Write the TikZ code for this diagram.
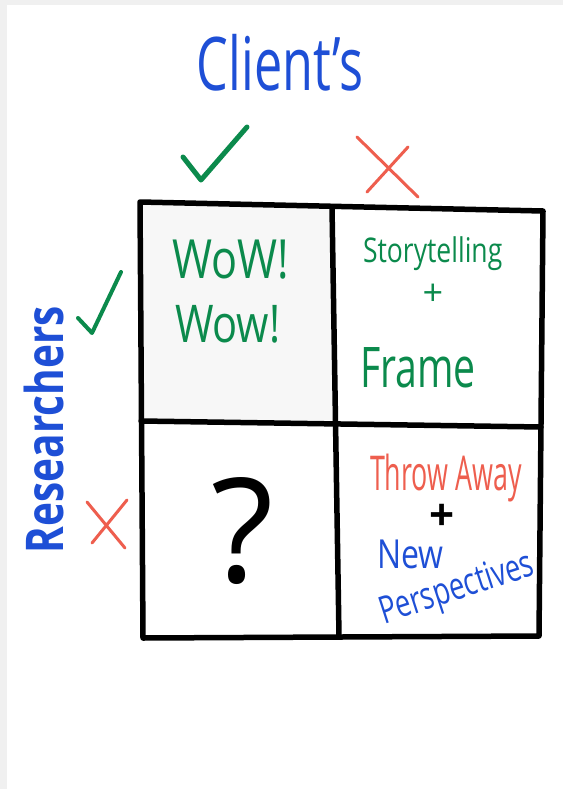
\documentclass[tikz,border=0pt]{standalone}
\usepackage{fontspec}
\setmainfont{Open Sans}
\definecolor{mblue}{HTML}{1E4FD6}
\definecolor{mgreen}{HTML}{0B8A4C}
\definecolor{mred}{HTML}{EE5E4E}
\definecolor{pagegray}{HTML}{F0F0F0}
\definecolor{cellgray}{HTML}{F7F7F7}
\tikzset{
  gridline/.style={line width=5.5pt, line cap=round, line join=round, black},
  checkmark/.style={mgreen, line width=5pt, line cap=round, line join=round},
  crossmark/.style={mred, line width=3pt, line cap=round},
  lbl/.style={inner sep=0pt, outer sep=0pt},
}
\newcommand{\fs}[1]{\fontsize{#1}{#1}\selectfont}
\begin{document}
\begin{tikzpicture}[x=1pt,y=-1pt]
\useasboundingbox (0,0) rectangle (563,789);
\fill[pagegray] (0,0) rectangle (563,789);
\fill[white] (7,5) rectangle (563,789);
% faint erased area in top-left cell
\fill[cellgray] (142,204) rectangle (333,420);

% grid
\coordinate (tl) at (140,202);
\coordinate (tr) at (543,211);
\coordinate (br) at (539,636);
\coordinate (bl) at (143,638);
\coordinate (mt) at (332,207);
\coordinate (mb) at (339,636);
\coordinate (ml) at (141,421);
\coordinate (mr) at (541,427);
\draw[gridline] (tl) -- (tr) -- (br) -- (bl) -- cycle;
\draw[gridline] (mt) -- (mb);
\draw[gridline] (ml) -- (mr);

% header
\node[lbl, anchor=base, text=mblue] (client) at (280,91) {\fs{74}\scalebox{0.68}[1]{Client's}};
\node[lbl, anchor=base west, text=mblue, rotate=90] (research) at (63,553) {\fs{52}\bfseries\scalebox{0.78}[1]{Researchers}};

% marks
\coordinate (c1a) at (183,157);
\coordinate (c1b) at (201,180);
\coordinate (c1c) at (247,127);
\draw[checkmark] (c1a) -- (c1b) -- (c1c);
\coordinate (x1a) at (357,137);
\coordinate (x1b) at (418,197);
\coordinate (x1c) at (408,147);
\coordinate (x1d) at (367,192);
\draw[crossmark] (x1a) -- (x1b) (x1c) -- (x1d);
\coordinate (c2a) at (78,318);
\coordinate (c2b) at (92,333);
\coordinate (c2c) at (121,272);
\draw[checkmark, line width=4pt] (c2a) -- (c2b) -- (c2c);
\coordinate (x2a) at (87,502);
\coordinate (x2b) at (125,548);
\coordinate (x2c) at (127,500);
\coordinate (x2d) at (92,543);
\draw[crossmark] (x2a) -- (x2b) (x2c) -- (x2d);

% cell texts
\node[lbl, anchor=base west, text=mgreen] (wow1) at (172,278) {\fs{54}\scalebox{0.8}[1]{WoW!}};
\node[lbl, anchor=base west, text=mgreen] (wow2) at (175,342) {\fs{52}\scalebox{0.8}[1]{Wow!}};
\node[lbl, anchor=base west, text=mgreen] (story) at (363,262) {\fs{34}\scalebox{0.78}[1]{Storytelling}};
\node[lbl, text=mgreen] (plus1) at (433,295) {\fs{36}+};
\node[lbl, anchor=base west, text=mgreen] (frame) at (360,387) {\fs{56}\scalebox{0.7}[1]{Frame}};
\node[lbl, anchor=base] (q) at (243,582) {\fs{145}?};
\node[lbl, anchor=base west, text=mred] (throw) at (370,490) {\fs{48}\scalebox{0.56}[1]{Throw Away}};
\node[lbl, text=black] (plus2) at (442,517) {\fs{44}\bfseries +};
\node[lbl, anchor=base west, text=mblue] (new) at (377,568) {\fs{40}\scalebox{0.8}[1]{New}};
\node[lbl, anchor=base west, text=mblue, rotate=18] (persp) at (384,624) {\fs{38}\scalebox{0.72}[1]{Perspectives}};
\end{tikzpicture}
\end{document}
